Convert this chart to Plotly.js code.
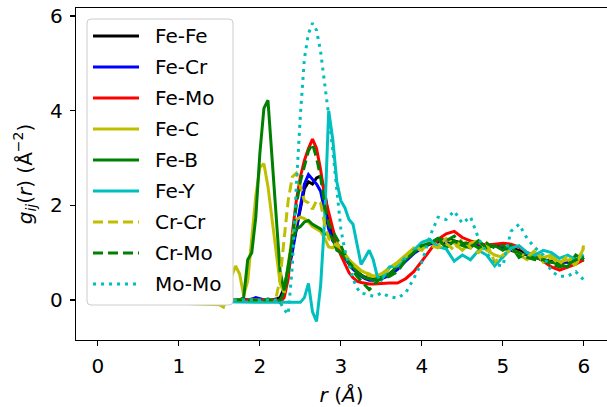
<!DOCTYPE html>
<html>
<head>
<meta charset="utf-8">
<script src="https://cdn.plot.ly/plotly-3.0.1.min.js"></script>
<style>html,body{margin:0;padding:0;background:#fff;}#chart{width:607px;height:407px;}</style>
</head>
<body>
<div id="chart"></div>
<script>
// shared r grid (Å)
const r = [0,
 1.50,1.55,1.60,1.65,1.70,1.75,1.80,1.85,1.90,1.95,
 2.00,2.05,2.10,2.15,2.20,2.25,2.30,2.35,2.40,2.45,
 2.50,2.55,2.60,2.65,2.70,2.75,2.80,2.85,2.90,2.95,
 3.00,3.05,3.10,3.15,3.20,3.25,3.30,3.35,3.40,3.45,3.50,
 3.6,3.7,3.8,3.9,4.0,4.1,4.2,4.3,4.4,4.5,4.6,4.7,4.8,4.9,
 5.0,5.1,5.2,5.3,5.4,5.5,5.6,5.7,5.8,5.9,6.0];

const feFe = [0,
 0,0,0,0,0,0,0,0,0,0,
 0,0,0,0,0.02,0.05,0.25,0.7,1.1,1.5,
 1.95,2.35,2.5,2.45,2.58,2.62,2.3,1.7,1.35,1.2,
 1.05,0.9,0.78,0.68,0.6,0.53,0.48,0.45,0.44,0.45,0.47,
 0.55,0.7,0.85,1.0,1.12,1.2,1.25,1.28,1.25,1.2,1.18,1.2,1.15,1.15,
 1.1,1.1,1.05,0.98,0.9,0.85,0.82,0.8,0.8,0.8,0.85];

const feCr = [0,
 0,0,0,0,0,0,0,0,0.02,0.05,
 0.03,0,0.02,0,0,-0.05,0.2,0.6,1.0,1.5,
 2.0,2.45,2.65,2.55,2.45,2.3,1.9,1.5,1.25,1.15,
 1.0,0.88,0.75,0.65,0.58,0.5,0.45,0.42,0.42,0.43,0.45,
 0.52,0.65,0.82,0.98,1.1,1.18,1.22,1.2,1.22,1.18,1.2,1.15,1.12,1.15,
 1.1,1.05,1.0,0.95,0.9,0.85,0.8,0.8,0.82,0.78,0.9];

const feMo = [0,
 0,0,0,0,0,0,0,0,0,0,
 0,0,0,0,0,-0.05,0.05,0.45,1.4,2.1,
 2.6,2.95,3.2,3.4,3.2,2.75,2.2,1.85,1.5,1.17,
 0.95,0.75,0.58,0.47,0.4,0.37,0.35,0.34,0.34,0.35,0.35,
 0.36,0.36,0.45,0.6,0.82,1.05,1.28,1.4,1.45,1.32,1.25,1.2,1.16,1.18,
 1.2,1.18,1.12,1.0,0.92,0.82,0.7,0.63,0.7,0.76,0.85];

const feC = [0,
 -0.1,-0.15,0.1,0.5,0.72,0.55,0.1,0.4,1.25,2.2,
 2.8,2.88,2.4,1.75,1.05,0.35,0.15,0.8,1.35,1.7,
 1.75,1.72,1.65,1.55,1.5,1.45,1.3,1.12,1.1,1.2,
 1.1,0.95,0.85,0.78,0.7,0.62,0.58,0.55,0.5,0.52,0.55,
 0.68,0.8,0.95,1.1,1.05,1.25,1.15,1.3,1.2,1.05,1.2,1.25,1.05,0.95,
 0.9,1.1,0.95,0.85,1.0,0.9,0.95,0.8,0.85,0.75,1.1];

const feB = [0,
 0,0,0,0,0,0,0.05,0.85,1.0,1.75,
 3.1,4.05,4.22,3.0,1.8,0.6,0.2,0.7,1.25,1.5,
 1.55,1.65,1.68,1.6,1.55,1.5,1.4,1.38,1.3,1.05,
 1.0,0.9,0.78,0.68,0.6,0.52,0.47,0.45,0.42,0.45,0.48,
 0.55,0.72,0.85,1.05,1.1,1.2,1.3,1.1,1.25,1.15,1.1,1.25,1.1,1.15,
 1.05,1.15,0.9,1.0,0.9,0.85,0.8,0.75,0.7,0.95,0.85];

const feY = [0,
 -0.05,-0.05,-0.05,-0.05,-0.05,-0.05,-0.05,-0.05,-0.05,-0.05,
 -0.05,-0.05,-0.05,-0.05,-0.05,-0.05,-0.05,-0.05,-0.05,-0.05,
 -0.05,0.05,0.35,-0.25,-0.45,0.3,1.7,4.0,3.4,2.5,
 2.1,1.95,1.7,1.6,1.2,0.75,0.9,1.05,0.85,0.5,0.42,
 0.7,0.72,0.9,1.05,1.22,1.28,1.12,1.08,0.82,0.95,0.85,1.05,0.95,0.72,
 0.9,1.1,1.15,1.0,0.95,1.05,1.0,0.88,0.95,0.85,0.95];

const crCr = [0,
 0,0,0,0,0,0,0,0,0,0,
 0,0,0,0,0.05,0.45,1.3,2.1,2.6,2.68,
 2.4,2.1,2.05,1.92,2.1,2.05,1.6,1.3,1.2,1.15,
 1.1,0.98,0.85,0.75,0.68,0.6,0.55,0.52,0.5,0.52,0.55,
 0.65,0.78,0.92,1.05,1.1,1.15,1.1,1.2,1.05,1.3,1.1,1.0,1.2,0.8,
 0.95,1.05,1.0,0.9,1.05,0.8,0.9,0.75,0.95,0.7,1.15];

const crMo = [0,
 0,0,0,0,0,0,0,0,0,0,
 0,0,0,0,0,0,0.15,0.6,1.3,2.0,
 2.5,2.85,3.15,3.3,3.0,2.6,2.0,1.6,1.45,1.3,
 1.15,0.95,0.78,0.62,0.5,0.4,0.3,0.22,0.3,0.4,0.45,
 0.5,0.6,0.85,1.0,1.15,1.2,1.3,1.25,1.35,1.2,1.2,1.1,1.2,1.1,
 1.15,1.05,1.0,0.9,0.85,0.85,0.75,0.7,0.75,0.85,0.9];

const moMo = [0,
 0,0,0,0,0,0,0,0,0,0,
 0,0,0,0,0,-0.05,-0.2,-0.3,0.7,2.4,
 3.9,5.1,5.63,5.85,5.7,5.25,4.6,3.9,3.17,2.25,
 1.5,1.05,0.75,0.45,0.25,0.14,0.13,0.1,0.08,0.1,0.15,
 0.07,0.04,0.15,0.45,0.8,1.35,1.75,1.7,1.88,1.62,1.76,1.3,1.0,0.75,
 0.72,1.45,1.6,1.3,1.1,0.95,0.6,0.5,0.5,0.6,0.42];

const names = ['Fe-Fe','Fe-Cr','Fe-Mo','Fe-C','Fe-B','Fe-Y','Cr-Cr','Cr-Mo','Mo-Mo'];
const series = [feFe, feCr, feMo, feC, feB, feY, crCr, crMo, moMo];
const colors = ['#000000','#0000ff','#ff0000','#bfbf00','#008000','#00bfbf','#bfbf00','#008000','#00bfbf'];
const dashes = ['solid','solid','solid','solid','solid','solid','10px,5px','10px,5px','3px,5px'];

const traces = names.map((n,i)=>({
  x: r, y: series[i], name: n, type:'scatter', mode:'lines',
  line: {color: colors[i], width: 3, dash: dashes[i]},
  hoverinfo: 'skip', showlegend: false
}));

// Plot-area geometry (px) used to place the hand-drawn legend in paper coords
const W = 607, H = 407, ML = 76, MR = 0, MT = 8, MB = 67;
const PW = W - ML - MR, PH = H - MT - MB;
const px = v => (v - ML) / PW;
const py = v => (H - MB - v) / PH;

const shapes = [];
const annotations = [];
// legend frame (rounded)
const bx0 = px(87), bx1 = px(233), by0 = py(305), by1 = py(19);
const rx = 4 / PW, ry = 4 / PH;
shapes.push({type:'path', xref:'paper', yref:'paper', layer:'above',
  path: `M ${bx0+rx} ${by0} L ${bx1-rx} ${by0} Q ${bx1} ${by0} ${bx1} ${by0+ry} L ${bx1} ${by1-ry} Q ${bx1} ${by1} ${bx1-rx} ${by1} L ${bx0+rx} ${by1} Q ${bx0} ${by1} ${bx0} ${by1-ry} L ${bx0} ${by0+ry} Q ${bx0} ${by0} ${bx0+rx} ${by0} Z`,
  fillcolor:'#ffffff', line:{color:'#cccccc', width:1}});
names.forEach((n,i)=>{
  const yy = py(36 + 31*i);
  shapes.push({type:'line', xref:'paper', yref:'paper', layer:'above',
    x0: px(93), x1: px(139), y0: yy, y1: yy,
    line:{color: colors[i], width: 3, dash: dashes[i]}});
  annotations.push({xref:'paper', yref:'paper', x: px(153), y: yy, xanchor:'left', yanchor:'middle',
    text: n, showarrow:false, font:{family:'DejaVu Sans, sans-serif', size:20, color:'#000'}});
});

const font = {family: 'DejaVu Sans, sans-serif', size: 20, color: '#000'};
const layout = {
  width: W, height: H,
  margin: {l: ML, r: MR, t: MT, b: MB},
  paper_bgcolor: '#fff', plot_bgcolor: '#fff',
  font: font,
  showlegend: false,
  shapes: shapes,
  annotations: annotations,
  xaxis: {range: [-0.27, 6.286], tickvals:[0,1,2,3,4,5,6], ticktext:['0','1','2','3','4','5','6'],
    showline:true, mirror:true, linecolor:'#000', linewidth:1.2, ticks:'outside', ticklen:5, tickwidth:1.2, tickcolor:'#000',
    ticklabelstandoff: 3,
    showgrid:false, zeroline:false,
    title:{text:'<i>r</i> (<i>Å</i>)', font: font, standoff: 10}},
  yaxis: {range: [-0.845, 6.17], tickvals:[0,2,4,6], ticktext:['0','2','4','6'],
    showline:true, mirror:true, linecolor:'#000', linewidth:1.2, ticks:'outside', ticklen:5, tickwidth:1.2, tickcolor:'#000',
    ticklabelstandoff: 3,
    showgrid:false, zeroline:false,
    title:{text:'<i>g</i><sub><i>ij</i></sub>(<i>r</i>) (Å<sup>−2</sup>)', font: font, standoff: 12}}
};
Plotly.newPlot('chart', traces, layout, {staticPlot:true, displayModeBar:false});
</script>
</body>
</html>
